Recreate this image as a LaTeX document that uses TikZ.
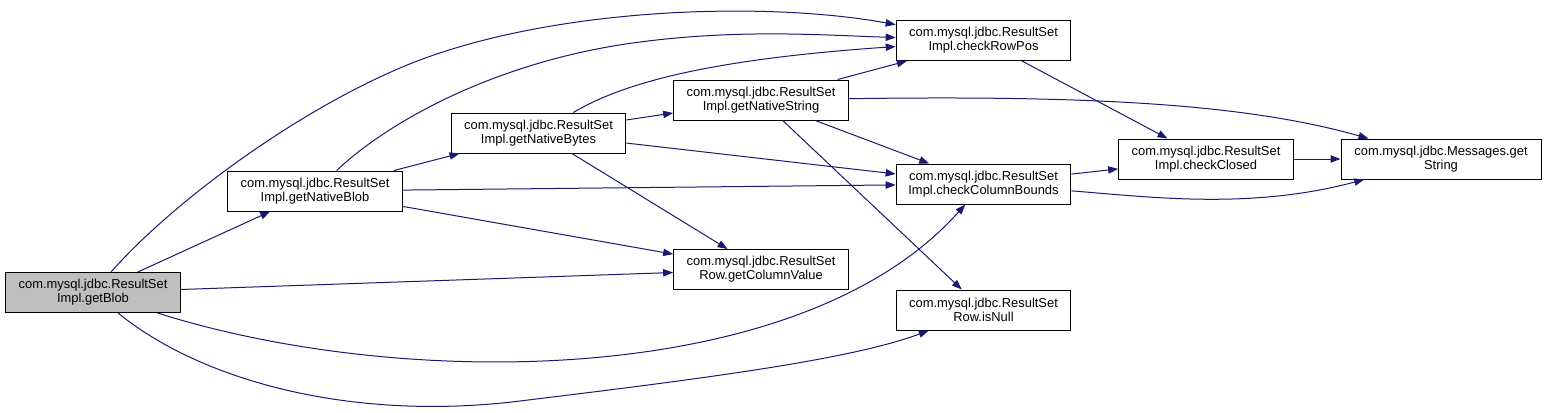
\documentclass[tikz,border=0pt]{standalone}
\usepackage{fontspec}
\setmainfont{Liberation Sans}
\usetikzlibrary{arrows.meta}
\definecolor{edgeblue}{RGB}{25,25,112}

\begin{document}
\begin{tikzpicture}[
    x=0.75pt, y=-0.75pt,
    fn/.style={draw, rectangle, line width=0.75pt, minimum width=131pt, minimum height=30pt, align=center, inner sep=1pt, font=\fontsize{9.7pt}{10.6pt}\selectfont},
    call/.style={draw=edgeblue, line width=0.75pt, -{Triangle[length=7.5pt,width=5.5pt]}},
  ]
  \useasboundingbox (0,0) rectangle (1547,412);

  \node[fn, fill=black!25] (getblob) at (93,292.5) {com.mysql.jdbc.ResultSet\\Impl.getBlob};
  \node[fn] (nblob) at (315,191) {com.mysql.jdbc.ResultSet\\Impl.getNativeBlob};
  \node[fn] (nbytes) at (538.5,133) {com.mysql.jdbc.ResultSet\\Impl.getNativeBytes};
  \node[fn] (nstring) at (761,100) {com.mysql.jdbc.ResultSet\\Impl.getNativeString};
  \node[fn] (colval) at (761,269.5) {com.mysql.jdbc.ResultSet\\Row.getColumnValue};
  \node[fn] (rowpos) at (983.5,40.5) {com.mysql.jdbc.ResultSet\\Impl.checkRowPos};
  \node[fn] (ccb) at (983.5,184) {com.mysql.jdbc.ResultSet\\Impl.checkColumnBounds};
  \node[fn] (isnull) at (983.5,310) {com.mysql.jdbc.ResultSet\\Row.isNull};
  \node[fn] (closed) at (1206,159) {com.mysql.jdbc.ResultSet\\Impl.checkClosed};
  \node[fn, minimum width=150pt] (msg) at (1441,159) {com.mysql.jdbc.Messages.get\\String};

  % calls from getBlob
  \draw[call] (getblob) .. controls (170,205) and (290,115) .. (400,68)
              .. controls (540,8) and (760,0) .. (rowpos);
  \draw[call] (getblob) -- (nblob);
  \draw[call] (getblob) -- (colval);
  \draw[call] (getblob) .. controls (400,390) and (800,390) .. (ccb);
  \draw[call] (getblob) .. controls (200,380) and (350,422) .. (520,401)
              .. controls (700,379) and (850,360) .. (isnull);

  % calls from getNativeBlob
  \draw[call] (nblob) -- (nbytes);
  \draw[call] (nblob) .. controls (390,120) and (500,60) .. (640,42)
              .. controls (740,29) and (820,35) .. (rowpos);
  \draw[call] (nblob) -- (ccb);
  \draw[call] (nblob) -- (colval);

  % calls from getNativeBytes
  \draw[call] (nbytes) -- (nstring);
  \draw[call] (nbytes) .. controls (620,85) and (700,60) .. (rowpos);
  \draw[call] (nbytes) -- (ccb);
  \draw[call] (nbytes) -- (colval);

  % calls from getNativeString
  \draw[call] (nstring) -- (rowpos);
  \draw[call] (nstring) .. controls (1100,95) and (1250,105) .. (msg);
  \draw[call] (nstring) -- (ccb);
  \draw[call] (nstring) -- (isnull);

  \draw[call] (rowpos) -- (closed);
  \draw[call] (ccb) -- (closed);
  \draw[call] (ccb) .. controls (1150,197) and (1250,210) .. (msg);
  \draw[call] (closed) -- (msg);
\end{tikzpicture}
\end{document}
